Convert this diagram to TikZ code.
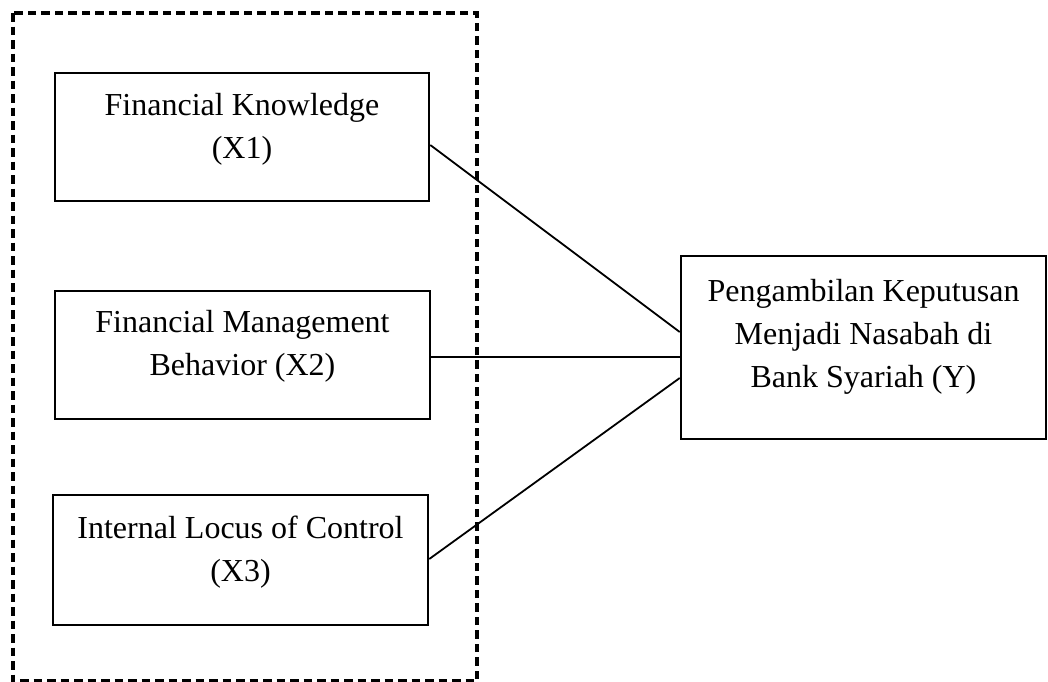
\documentclass[tikz,border=0pt]{standalone}
\usepackage{fontspec}
\setmainfont{Liberation Serif}
\begin{document}
\begin{tikzpicture}[x=1pt,y=-1pt,
  boxnode/.style={draw=black, line width=2.5pt, rectangle, inner sep=0pt},
  txt/.style={align=center, font=\fontsize{32}{43}\selectfont, inner sep=0pt},
  conn/.style={draw=black, line width=1.8pt},
  dashbox/.style={draw=black, line width=3.2pt, dash pattern=on 8.5pt off 5pt}]
\useasboundingbox (0,0) rectangle (1048,681);
\fill[white] (0,0) rectangle (1048,681);
\draw[dashbox] (13,13) rectangle (477,681);
\node[boxnode, minimum width=374pt, minimum height=128pt] (b1) at (242,137) {};
\node[boxnode, minimum width=375pt, minimum height=128pt] (b2) at (242.5,355) {};
\node[boxnode, minimum width=375pt, minimum height=130pt] (b3) at (240.5,560) {};
\node[boxnode, minimum width=365pt, minimum height=183pt] (y) at (863.5,347.5) {};
\node[txt] (t1) at ([yshift=8pt]b1.center) {Financial Knowledge\\(X1)};
\node[txt] (t2) at ([yshift=9pt]b2.center) {Financial Management\\Behavior (X2)};
\node[txt] (t3) at ([yshift=8pt]b3.center) {Internal Locus of Control\\(X3)};
\node[txt] (ty) at ([yshift=11pt]y.center) {Pengambilan Keputusan\\Menjadi Nasabah di\\Bank Syariah (Y)};
\draw[conn] ([yshift=-8pt]b1.east) -- ([yshift=15.5pt]y.west);
\draw[conn] ([yshift=-2pt]b2.east) -- ([yshift=-9.5pt]y.west);
\draw[conn] ([yshift=1pt]b3.east) -- ([yshift=-30.5pt]y.west);
\end{tikzpicture}
\end{document}
